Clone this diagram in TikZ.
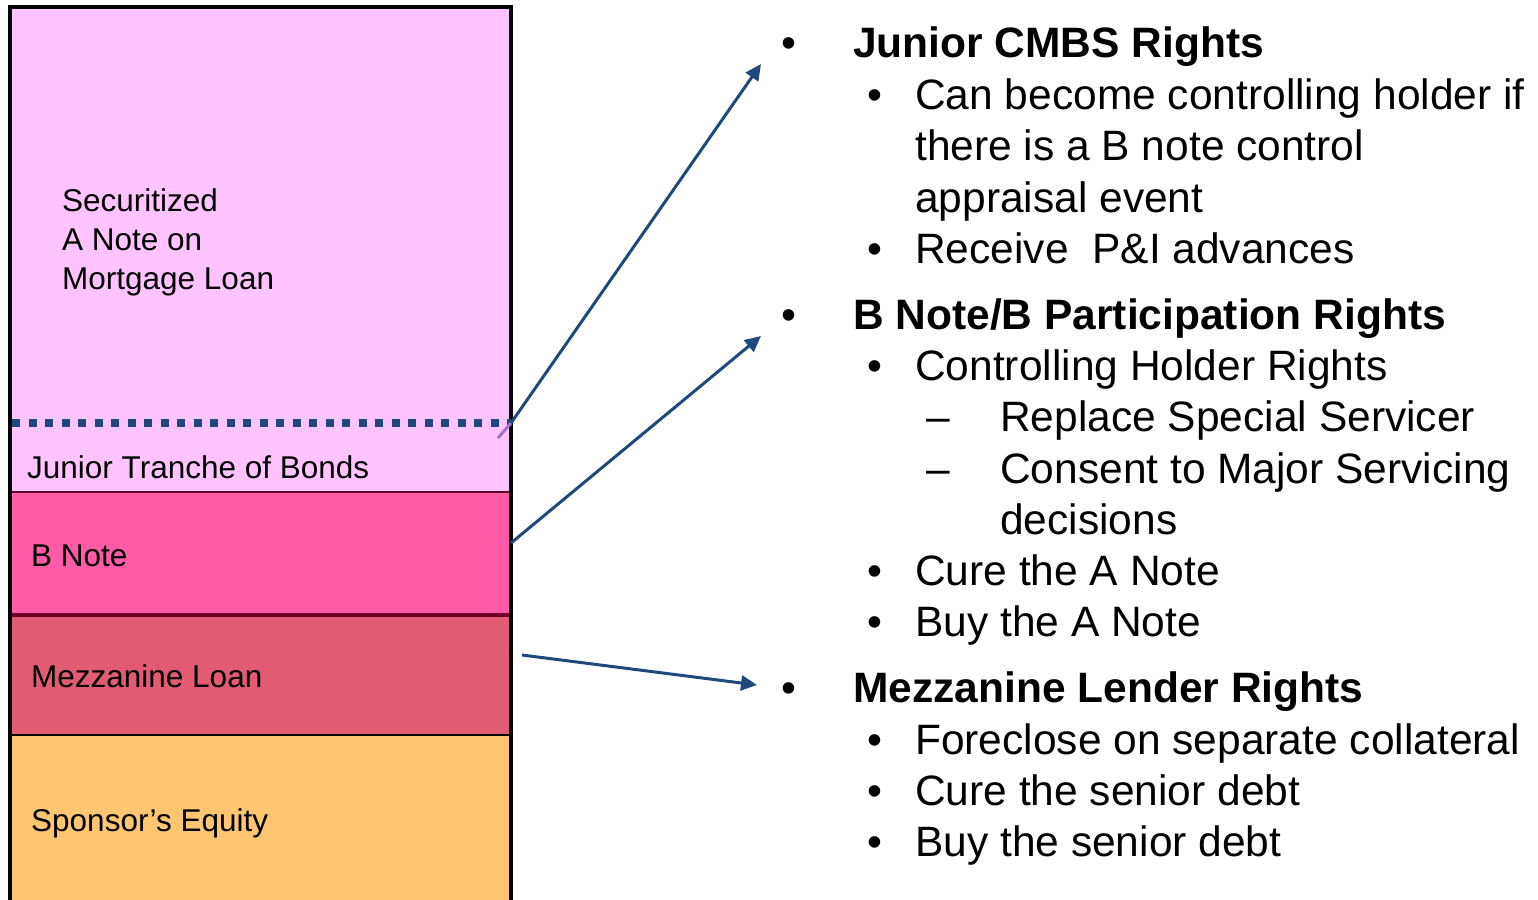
\documentclass[tikz,border=0pt]{standalone}
\usepackage{fontspec}
\setmainfont{Liberation Sans}
\usetikzlibrary{arrows.meta}
\definecolor{anote}{RGB}{255,196,255}
\definecolor{bnote}{RGB}{255,91,166}
\definecolor{mezz}{RGB}{225,91,115}
\definecolor{equity}{RGB}{255,198,114}
\definecolor{navy}{RGB}{31,73,125}
\definecolor{lilac}{RGB}{160,112,200}
\tikzset{
  layer/.style={draw=black, line width=3.4pt},
  lefttxt/.style={anchor=base west, inner sep=0pt, font=\fontsize{31.5}{39}\selectfont},
  bigtxt/.style={anchor=base west, inner sep=0pt, font=\fontsize{42.5}{51}\selectfont},
  headtxt/.style={bigtxt, font=\fontsize{42.5}{51}\selectfont\bfseries},
  mark1/.style={anchor=base, inner sep=0pt, font=\fontsize{42.5}{51}\selectfont},
  pointer/.style={draw=navy, line width=3pt, -{Triangle[length=16pt,width=15pt]}}
}
\begin{document}
\begin{tikzpicture}[x=1pt,y=-1pt]
\useasboundingbox (0,0) rectangle (1538,899);

% stacked capital layers
\fill[anote] (10,7) rectangle (511,492);
\fill[bnote] (10,492) rectangle (511,615);
\fill[mezz] (10,615) rectangle (511,735);
\fill[equity] (10,735) rectangle (511,905);
\draw[line width=2.8pt, draw={rgb,255:red,90;green,0;blue,40}] (10,492) -- (511,492);
\draw[line width=3.2pt, draw={rgb,255:red,110;green,0;blue,40}] (10,615) -- (511,615);
\draw[line width=2.8pt] (10,735) -- (511,735);
\draw[layer] (10,905) -- (10,7) -- (511,7) -- (511,905);

% securitized / junior split
\draw[navy, line width=7.5pt, dash pattern=on 8pt off 8.5pt] (12,423) -- (511,423);

% layer labels
\node[lefttxt] (la1) at (62,211) {Securitized};
\node[lefttxt] (la2) at (62,250) {A Note on};
\node[lefttxt] (la3) at (62,289) {Mortgage Loan};
\node[lefttxt] (ljr) at (27,478) {Junior Tranche of Bonds};
\node[lefttxt] (lb) at (31,566) {B Note};
\node[lefttxt] (lm) at (31,687) {Mezzanine Loan};
\node[lefttxt] (ls) at (31,831) {Sponsor’s Equity};

% rights lists
\node[mark1] (b1) at (789,58) {•};
\node[headtxt] (h1) at (853,58) {Junior CMBS Rights};
\node[mark1] (b11) at (875,109) {•};
\node[bigtxt] (t11) at (915,109) {Can become controlling holder if};
\node[bigtxt] (t12) at (915,160) {there is a B note control};
\node[bigtxt] (t13) at (915,212) {appraisal event};
\node[mark1] (b12) at (875,263) {•};
\node[bigtxt] (t14) at (915,263) {Receive\ \ P\&I advances};

\node[mark1] (b2) at (789,329) {•};
\node[headtxt] (h2) at (853,329) {B Note/B Participation Rights};
\node[mark1] (b21) at (875,380) {•};
\node[bigtxt] (t21) at (915,380) {Controlling Holder Rights};
\node[mark1] (d1) at (938,431) {–};
\node[bigtxt] (t22) at (1000,431) {Replace Special Servicer};
\node[mark1] (d2) at (938,483) {–};
\node[bigtxt] (t23) at (1000,483) {Consent to Major Servicing};
\node[bigtxt] (t24) at (1000,534) {decisions};
\node[mark1] (b22) at (875,585) {•};
\node[bigtxt] (t25) at (915,585) {Cure the A Note};
\node[mark1] (b23) at (875,636) {•};
\node[bigtxt] (t26) at (915,636) {Buy the A Note};

\node[mark1] (b3) at (789,702) {•};
\node[headtxt] (h3) at (853,702) {Mezzanine Lender Rights};
\node[mark1] (b31) at (875,754) {•};
\node[bigtxt] (t31) at (915,754) {Foreclose on separate collateral};
\node[mark1] (b32) at (875,805) {•};
\node[bigtxt] (t32) at (915,805) {Cure the senior debt};
\node[mark1] (b33) at (875,856) {•};
\node[bigtxt] (t33) at (915,856) {Buy the senior debt};

% connector end points
\coordinate (s0) at (498,438);
\coordinate (s1) at (511,423);
\coordinate (e1) at (761,64);
\coordinate (s2) at (511,543);
\coordinate (e2) at (761,336);
\coordinate (s3) at (522,655);
\coordinate (e3) at (757,685);

\draw[lilac, line width=3pt] (s0) -- (s1);
\draw[pointer] (s1) -- (e1);
\draw[pointer] (s2) -- (e2);
\draw[pointer] (s3) -- (e3);
\end{tikzpicture}
\end{document}
